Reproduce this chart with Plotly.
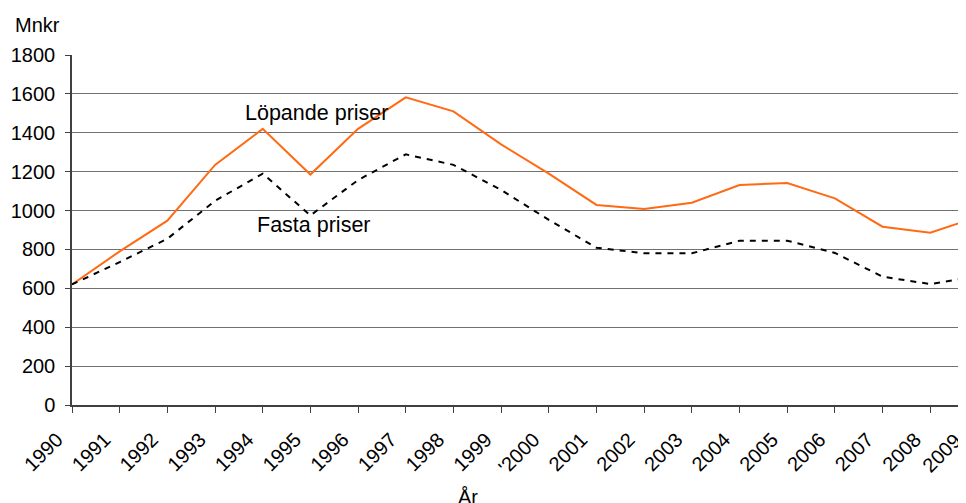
import plotly.graph_objects as go

years = list(range(1990, 2010))
tick_text = ["1990", "1991", "1992", "1993", "1994", "1995", "1996", "1997", "1998", "1999",
             "'2000", "2001", "2002", "2003", "2004", "2005", "2006", "2007", "2008", "2009"]
lopande = [620, 790, 948, 1235, 1420, 1185, 1420, 1582, 1510, 1340,
           1190, 1029, 1008, 1040, 1131, 1142, 1063, 917, 886, 968]
fasta = [620, 735, 855, 1050, 1190, 975, 1157, 1289, 1235, 1106,
         952, 809, 780, 780, 845, 845, 782, 660, 622, 662]
y_ticks = [0, 200, 400, 600, 800, 1000, 1200, 1400, 1600, 1800]

FONT = "Liberation Sans, Arial, sans-serif"
x_range = [1990, 2008.75]

fig = go.Figure()
fig.add_trace(go.Scatter(x=years, y=lopande, mode="lines",
                         line=dict(color="#FF6A13", width=2), name="Löpande priser"))
fig.add_trace(go.Scatter(x=years, y=fasta, mode="lines",
                         line=dict(color="#000000", width=2, dash="6px,6px"), name="Fasta priser"))

# page body has an 8px margin, so the figure is 8px smaller than the window
fig.update_layout(
    width=958, height=495,
    margin=dict(l=64, r=0, t=47, b=98),
    paper_bgcolor="white", plot_bgcolor="white",
    showlegend=False,
    font=dict(family=FONT, size=20, color="#000000"),
    xaxis=dict(range=x_range, tickmode="array", tickvals=years[:-1], ticktext=tick_text[:-1],
               tickangle=-45, ticks="outside", ticklen=6, tickcolor="#404040", tickwidth=1,
               showgrid=False, zeroline=False, showline=True, linecolor="#404040", linewidth=2,
               tickfont=dict(size=20), ticklabelstandoff=7, ticklabelshift=-15),
    yaxis=dict(range=[0, 1800], tickmode="array", tickvals=y_ticks,
               ticks="outside", ticklen=5, tickcolor="#404040",
               showgrid=True, gridcolor="#707070", gridwidth=1,
               zeroline=False, showline=True, linecolor="#404040", linewidth=1.5,
               tickfont=dict(size=20), ticklabelstandoff=6),
)

# last year's tick label falls just past the right edge of the plot area
span = x_range[1] - x_range[0]
fig.add_annotation(x=(years[-1] - x_range[0]) / span, y=0, xref="paper", yref="paper",
                   text=tick_text[-1], showarrow=False, textangle=-45,
                   xanchor="right", yanchor="top", xshift=-10, yshift=-21,
                   font=dict(size=20))

fig.add_annotation(x=1995.13, y=1500, xref="x", yref="y", text="Löpande priser",
                   showarrow=False, font=dict(size=21.5))
fig.add_annotation(x=1995.07, y=926, xref="x", yref="y", text="Fasta priser",
                   showarrow=False, font=dict(size=21.5))
fig.add_annotation(x=-0.066, y=1.0857, xref="paper", yref="paper", text="Mnkr",
                   showarrow=False, xanchor="left", yanchor="middle", font=dict(size=20))
fig.add_annotation(x=(468 - 72) / 894, y=(405 - 497) / 350, xref="paper", yref="paper", text="År",
                   showarrow=False, xanchor="center", yanchor="middle", font=dict(size=20))

fig.write_html("out.html")
